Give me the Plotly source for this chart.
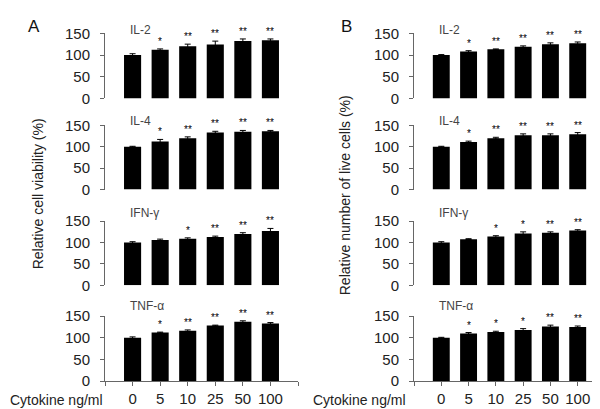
import plotly.graph_objects as go

doses = ["0", "5", "10", "25", "50", "100"]
cytokines = ["IL-2", "IL-4", "IFN-γ", "TNF-α"]

# Panel A: relative cell viability (%)
a_il2 = [100, 112, 120, 124, 132, 134]
a_il2_err = [3, 2, 5, 8, 5, 3]
a_il4 = [100, 112, 120, 133, 135, 136]
a_il4_err = [1, 5, 3, 3, 3, 2]
a_ifn = [100, 106, 109, 113, 120, 127]
a_ifn_err = [2, 2, 2, 2, 3, 6]
a_tnf = [100, 112, 116, 128, 137, 133]
a_tnf_err = [2, 1, 2, 1, 2, 2]

# Panel B: relative number of live cells (%)
b_il2 = [100, 108, 113, 119, 125, 127]
b_il2_err = [1, 2, 1, 2, 3, 3]
b_il4 = [100, 111, 120, 127, 127, 129]
b_il4_err = [1, 2, 2, 3, 3, 4]
b_ifn = [100, 108, 114, 121, 123, 128]
b_ifn_err = [2, 1, 2, 4, 2, 2]
b_tnf = [100, 110, 113, 118, 126, 125]
b_tnf_err = [1, 2, 2, 3, 3, 2]

a_il2_sig = ["", "*", "**", "**", "**", "**"]
a_il4_sig = ["", "*", "**", "**", "**", "**"]
a_ifn_sig = ["", "", "*", "**", "**", "**"]
a_tnf_sig = ["", "*", "**", "**", "**", "**"]
b_il2_sig = ["", "*", "**", "**", "**", "**"]
b_il4_sig = ["", "*", "**", "**", "**", "**"]
b_ifn_sig = ["", "", "*", "*", "**", "**"]
b_tnf_sig = ["", "*", "*", "*", "**", "**"]

y_ticks = [0, 50, 100, 150]

panels = [
    [(a_il2, a_il2_err, a_il2_sig), (a_il4, a_il4_err, a_il4_sig),
     (a_ifn, a_ifn_err, a_ifn_sig), (a_tnf, a_tnf_err, a_tnf_sig)],
    [(b_il2, b_il2_err, b_il2_sig), (b_il4, b_il4_err, b_il4_sig),
     (b_ifn, b_ifn_err, b_ifn_sig), (b_tnf, b_tnf_err, b_tnf_sig)],
]

FONT = "Liberation Sans, Arial"
H = 409.0
W = 600.0
row_px = [(17, 85), (113, 180), (213, 280), (312, 380)]
title_px = [14, 108, 205, 302]
col_px = [(97, 290), (406, 597)]
title_x = [120, 429]

fig = go.Figure()
annotations = []
layout = {}
xpos = list(range(len(doses)))
idx = 0
for c in range(2):
    for r in range(4):
        idx += 1
        vals, errs, sig = panels[c][r]
        xa = "x" if idx == 1 else f"x{idx}"
        ya = "y" if idx == 1 else f"y{idx}"
        fig.add_trace(go.Bar(
            x=xpos, y=vals, width=0.62, marker=dict(color="black", line=dict(width=0)),
            error_y=dict(type="data", array=errs, color="black", thickness=1, width=3, visible=True),
            xaxis=xa, yaxis=ya, showlegend=False))
        top, bot = row_px[r]
        x0, x1 = col_px[c]
        bottom = (r == 3)
        layout["xaxis" if idx == 1 else f"xaxis{idx}"] = dict(
            domain=[x0 / W, x1 / W], anchor=ya, range=[-1, 6],
            showline=bottom, linecolor="#666", linewidth=1,
            tickmode="array", tickvals=list(range(-1, 7)),
            ticktext=[""] + doses + [""],
            showticklabels=bottom, ticks="outside" if bottom else "",
            ticklen=4, tickcolor="#666",
            tickfont=dict(family=FONT, size=15, color="#222"),
            showgrid=False, zeroline=False, fixedrange=True)
        layout["yaxis" if idx == 1 else f"yaxis{idx}"] = dict(
            domain=[1 - bot / H, 1 - top / H], anchor=xa, range=[0, 150],
            showline=True, linecolor="#666", linewidth=1,
            tickmode="array", tickvals=y_ticks, ticks="outside", ticklen=4,
            tickcolor="#666", ticklabelstandoff=7,
            tickfont=dict(family=FONT, size=15, color="#222"),
            showgrid=False, zeroline=False, fixedrange=True)
        annotations.append(dict(
            text=cytokines[r], xref="paper", yref="paper",
            x=title_x[c] / W, y=1 - title_px[r] / H, xanchor="left", yanchor="middle",
            showarrow=False, font=dict(family=FONT, size=12, color="#444")))
        for i, s in enumerate(sig):
            if s:
                annotations.append(dict(
                    text=s, xref=xa, yref=ya, x=xpos[i], y=vals[i] + errs[i],
                    xanchor="center", yanchor="bottom", yshift=0, showarrow=False,
                    font=dict(family=FONT, size=10, color="#000")))

# panel letters
annotations.append(dict(text="A", xref="paper", yref="paper", x=26 / W, y=1 - 10 / H,
                        xanchor="center", yanchor="middle", showarrow=False,
                        font=dict(family=FONT, size=17, color="#111")))
annotations.append(dict(text="B", xref="paper", yref="paper", x=339 / W, y=1 - 10 / H,
                        xanchor="center", yanchor="middle", showarrow=False,
                        font=dict(family=FONT, size=17, color="#111")))
# y titles
annotations.append(dict(text="Relative cell viability (%)", xref="paper", yref="paper",
                        x=30 / W, y=1 - 185 / H, textangle=-90, xanchor="center", yanchor="middle",
                        showarrow=False, font=dict(family=FONT, size=14, color="#222")))
annotations.append(dict(text="Relative number of live cells (%)", xref="paper", yref="paper",
                        x=337 / W, y=1 - 186 / H, textangle=-90, xanchor="center", yanchor="middle",
                        showarrow=False, font=dict(family=FONT, size=14, color="#222")))
# x titles
annotations.append(dict(text="Cytokine ng/ml", xref="paper", yref="paper",
                        x=0 / W, y=1 - 400 / H, xanchor="left", yanchor="middle",
                        showarrow=False, font=dict(family=FONT, size=14, color="#222")))
annotations.append(dict(text="Cytokine ng/ml", xref="paper", yref="paper",
                        x=303 / W, y=1 - 400 / H, xanchor="left", yanchor="middle",
                        showarrow=False, font=dict(family=FONT, size=14, color="#222")))

fig.update_layout(**layout)
fig.update_layout(
    width=600, height=409, margin=dict(l=0, r=0, t=0, b=0),
    paper_bgcolor="white", plot_bgcolor="white",
    annotations=annotations, showlegend=False, bargap=0.3)

fig.write_html("out.html")
